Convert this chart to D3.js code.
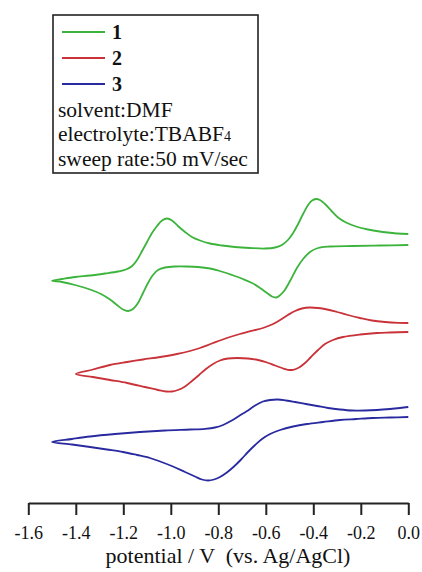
<!DOCTYPE html>
<html>
<head>
<meta charset="utf-8">
<script src="https://cdn.jsdelivr.net/npm/d3@7/dist/d3.min.js"></script>
<style>
html,body{margin:0;padding:0;background:#fff;}
svg{display:block;}
text{font-family:"Liberation Serif","Times New Roman",serif;fill:#111;}
</style>
</head>
<body>
<svg id="chart" width="422" height="572"></svg>
<script>
// ---- data: potential (V) and current (arbitrary units, traces offset) ----
const series1V = [0.0,-0.119,-0.233,-0.330,-0.380,-0.414,-0.443,-0.469,-0.498,-0.523,-0.544,-0.557,-0.574,-0.595,-0.624,-0.658,-0.696,-0.742,-0.793,-0.835,-0.885,-0.932,-0.982,-1.024,-1.054,-1.075,-1.096,-1.117,-1.138,-1.159,-1.180,-1.201,-1.227,-1.256,-1.294,-1.340,-1.403,-1.458,-1.50,
  -1.458,-1.403,-1.340,-1.277,-1.222,-1.189,-1.163,-1.142,-1.121,-1.100,-1.079,-1.058,-1.037,-1.016,-0.995,-0.970,-0.940,-0.911,-0.877,-0.835,-0.784,-0.730,-0.667,-0.603,-0.561,-0.532,-0.507,-0.485,-0.464,-0.443,-0.422,-0.405,-0.389,-0.372,-0.351,-0.325,-0.296,-0.262,-0.220,-0.170,-0.107,-0.048,0.0];
const series1I = [25.5,25.45,25.4,25.35,25.2,24.8,24.1,23.2,21.9,20.9,20.4,20.25,20.35,20.7,21.2,21.7,22.1,22.5,22.9,23.15,23.3,23.35,23.35,23.25,23.0,22.5,21.7,20.7,19.7,19.1,18.9,19.05,19.5,20.05,20.6,21.05,21.5,21.8,21.93,
  22.1,22.3,22.45,22.65,22.85,23.05,23.4,24.0,24.9,25.8,26.7,27.4,27.95,28.15,27.95,27.4,26.8,26.3,25.95,25.65,25.45,25.3,25.2,25.15,25.25,25.5,26.0,26.7,27.6,28.6,29.5,29.95,30.1,30.0,29.6,28.95,28.25,27.75,27.35,27.05,26.8,26.65,26.6];

const series2V = [0.0,-0.077,-0.132,-0.203,-0.275,-0.317,-0.351,-0.380,-0.410,-0.435,-0.460,-0.485,-0.507,-0.532,-0.561,-0.595,-0.633,-0.675,-0.721,-0.759,-0.793,-0.822,-0.852,-0.881,-0.911,-0.940,-0.970,-0.995,-1.020,-1.054,-1.109,-1.184,-1.256,-1.328,-1.40,
  -1.328,-1.256,-1.184,-1.117,-1.045,-0.974,-0.919,-0.877,-0.827,-0.764,-0.709,-0.654,-0.612,-0.574,-0.540,-0.507,-0.477,-0.448,-0.414,-0.380,-0.342,-0.300,-0.254,-0.203,-0.153,-0.098,-0.043,0.0];
const series2I = [16.8,16.75,16.7,16.55,16.3,16.0,15.6,15.0,14.3,13.7,13.25,13.02,13.02,13.2,13.45,13.75,14.0,14.15,14.2,14.15,13.95,13.6,13.1,12.5,11.9,11.35,11.0,10.85,10.85,11.0,11.3,11.7,12.0,12.3,12.6,
  13.05,13.5,13.8,14.05,14.3,14.6,14.9,15.2,15.65,16.2,16.6,16.95,17.2,17.55,18.0,18.5,18.9,19.15,19.25,19.2,19.05,18.8,18.5,18.2,17.95,17.8,17.72,17.7];

const series3V = [0.0,-0.077,-0.149,-0.220,-0.288,-0.359,-0.427,-0.485,-0.540,-0.582,-0.616,-0.645,-0.675,-0.704,-0.734,-0.764,-0.793,-0.818,-0.843,-0.869,-0.898,-0.940,-0.991,-1.045,-1.088,-1.142,-1.201,-1.269,-1.340,-1.416,-1.50,
  -1.416,-1.340,-1.235,-1.130,-1.024,-0.919,-0.856,-0.814,-0.780,-0.747,-0.713,-0.679,-0.645,-0.612,-0.582,-0.549,-0.515,-0.477,-0.431,-0.384,-0.338,-0.288,-0.237,-0.182,-0.132,-0.077,-0.035,0.0];
const series3I = [8.3,8.25,8.2,8.1,8.0,7.8,7.6,7.35,7.0,6.6,6.1,5.5,4.8,4.05,3.35,2.75,2.3,2.05,1.95,2.05,2.35,2.8,3.35,3.85,4.2,4.5,4.8,5.05,5.3,5.55,5.8,
  6.1,6.35,6.6,6.8,6.95,7.05,7.12,7.25,7.5,7.9,8.4,8.9,9.45,9.85,10.0,10.05,9.95,9.8,9.6,9.4,9.2,9.05,8.95,8.95,9.0,9.1,9.2,9.3];

const seriesNames = ["1","2","3"];
const seriesColors = ["#3cb43c","#c83238","#2a2aa0"];
const xTicks = [-1.6,-1.4,-1.2,-1.0,-0.8,-0.6,-0.4,-0.2,0.0];
const xTitle = "potential / V  (vs. Ag/AgCl)";
const infoLines = ["solvent:DMF","electrolyte:TBABF","sweep rate:50 mV/sec"];

// ---- drawing ----
const svg = d3.select("#chart");
const x = d3.scaleLinear().domain([-1.6, 0.0]).range([28.3, 408.3]);
const y = d3.scaleLinear().domain([0, 30]).range([500, 200]);

const traces = [
  {v: series1V, i: series1I},
  {v: series2V, i: series2I},
  {v: series3V, i: series3I}
];
const line = d3.line()
  .x(d => x(d[0]))
  .y(d => y(d[1]))
  .curve(d3.curveCatmullRom.alpha(0.5));

traces.forEach((t, k) => {
  const pts = t.v.map((v, j) => [v, t.i[j]]);
  svg.append("path")
    .attr("d", line(pts))
    .attr("fill", "none")
    .attr("stroke", seriesColors[k])
    .attr("stroke-width", 1.8)
    .attr("stroke-linejoin", "round");
});

// x axis
const axisY = 503;
const axis = d3.axisBottom(x)
  .tickValues(xTicks)
  .tickSize(12)
  .tickSizeOuter(0)
  .tickPadding(11);
const gAxis = svg.append("g").attr("transform", `translate(0,${axisY})`).call(axis);
gAxis.select(".domain").attr("stroke", "#222").attr("stroke-width", 2);
gAxis.selectAll(".tick line").attr("stroke", "#222").attr("stroke-width", 2);
gAxis.selectAll(".tick text")
  .attr("font-family", '"Liberation Serif","Times New Roman",serif')
  .attr("font-size", 18)
  .attr("fill", "#111")
  .text(d => d3.format(".1f")(d).replace("\u2212", "-"));

svg.append("text")
  .attr("x", 228)
  .attr("y", 563)
  .attr("text-anchor", "middle")
  .attr("font-size", 22)
  .style("white-space", "pre")
  .text(xTitle);

// legend
const legend = svg.append("g");
legend.append("rect")
  .attr("x", 53).attr("y", 15)
  .attr("width", 205).attr("height", 158)
  .attr("fill", "#fff")
  .attr("stroke", "#222")
  .attr("stroke-width", 1.6);

seriesNames.forEach((n, k) => {
  const ly = 32 + k * 26;
  legend.append("line")
    .attr("x1", 62).attr("x2", 105)
    .attr("y1", ly).attr("y2", ly)
    .attr("stroke", seriesColors[k])
    .attr("stroke-width", 1.8);
  legend.append("text")
    .attr("x", 112).attr("y", ly + 7)
    .attr("font-size", 20)
    .attr("font-weight", "bold")
    .text(n);
});

infoLines.forEach((s, k) => {
  const t = legend.append("text")
    .attr("x", 58).attr("y", 116.5 + k * 24.5)
    .attr("font-size", 21.5)
    .style("white-space", "pre")
    .text(s);
  if (k === 1) {
    t.append("tspan").attr("font-size", 14).text("4");
  }
});
</script>
</body>
</html>
